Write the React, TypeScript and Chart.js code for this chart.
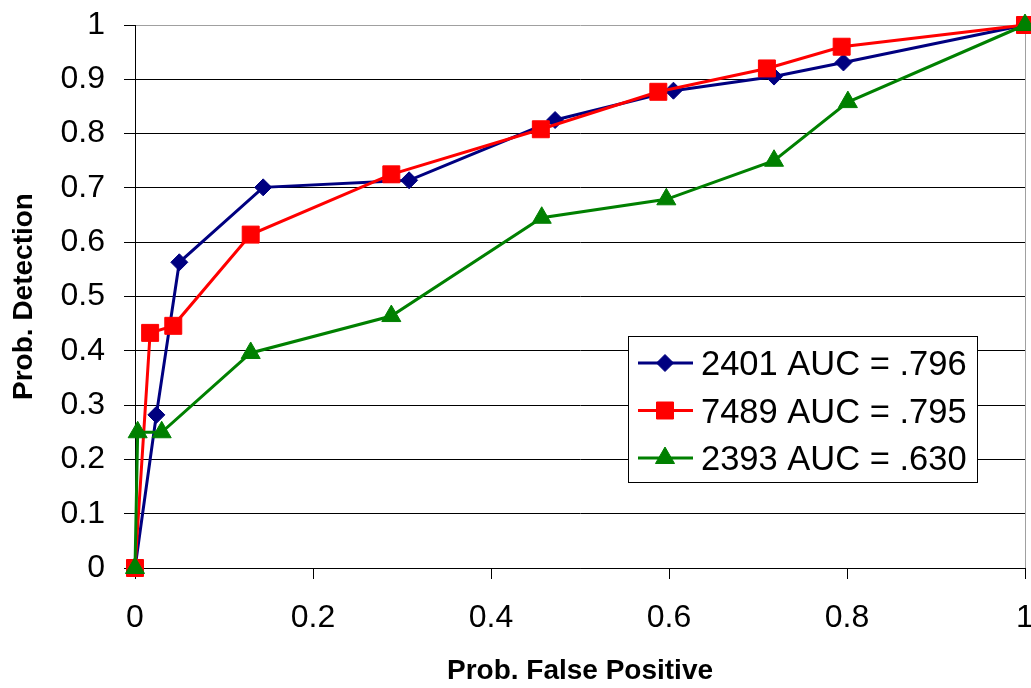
import { useEffect, useRef } from "react";
import { Chart, registerables } from "chart.js";
import { drawPoint } from "chart.js/helpers";

Chart.register(...registerables);

// ---- data ----
const seriesLabels = ["2401 AUC = .796", "7489 AUC = .795", "2393 AUC = .630"];

const fp2401 = [0, 0.024, 0.0498, 0.144, 0.308, 0.472, 0.605, 0.718, 0.796, 1];
const pd2401 = [0, 0.282, 0.563, 0.701, 0.714, 0.825, 0.879, 0.905, 0.931, 1];

const fp7489 = [0, 0.017, 0.043, 0.13, 0.288, 0.456, 0.588, 0.71, 0.794, 1];
const pd7489 = [0, 0.433, 0.446, 0.614, 0.725, 0.808, 0.877, 0.92, 0.96, 1];

const fp2393 = [0, 0.003, 0.03, 0.13, 0.288, 0.457, 0.597, 0.718, 0.801, 1];
const pd2393 = [0, 0.25, 0.25, 0.396, 0.464, 0.645, 0.679, 0.75, 0.858, 1];

const xTickValues = [0, 0.2, 0.4, 0.6, 0.8, 1];
const yTickValues = [0, 0.1, 0.2, 0.3, 0.4, 0.5, 0.6, 0.7, 0.8, 0.9, 1];

const xTitle = "Prob. False Positive";
const yTitle = "Prob. Detection";

const FONT = "'Liberation Sans', Arial, sans-serif";

const toPoints = (xs: number[], ys: number[]) => xs.map((x, i) => ({ x, y: ys[i] }));
const fmt = (v: number) => String(Math.round(v * 10) / 10);

const legendPlugin = {
  id: "boxLegend",
  afterDraw(chart: any) {
    const ctx = chart.ctx as CanvasRenderingContext2D;
    const left = 628;
    const top = 336;
    const w = 349;
    const h = 146;
    ctx.save();
    ctx.fillStyle = "#ffffff";
    ctx.fillRect(left, top, w, h);
    ctx.strokeStyle = "#000000";
    ctx.lineWidth = 1;
    ctx.strokeRect(left + 0.5, top + 0.5, w, h);
    chart.data.datasets.forEach((ds: any, i: number) => {
      const y = 363 + i * 47.5;
      ctx.strokeStyle = ds.borderColor;
      ctx.lineWidth = 3;
      ctx.beginPath();
      ctx.moveTo(638, y);
      ctx.lineTo(693, y);
      ctx.stroke();
      ctx.fillStyle = ds.backgroundColor;
      ctx.strokeStyle = ds.borderColor;
      ctx.lineWidth = 1;
      drawPoint(ctx, { pointStyle: ds.pointStyle, radius: ds.pointRadius, rotation: 0, borderWidth: 1 } as any, 665, y);
      ctx.fillStyle = "#000000";
      ctx.font = `34.5px ${FONT}`;
      ctx.textBaseline = "alphabetic";
      ctx.textAlign = "left";
      ctx.fillText(ds.label, 701, y + 12);
    });
    ctx.restore();
  },
};

export default function App() {
  const ref = useRef<HTMLCanvasElement | null>(null);

  useEffect(() => {
    if (!ref.current) return;
    const chart = new Chart(ref.current, {
      type: "line",
      data: {
        datasets: [
          {
            label: seriesLabels[0],
            data: toPoints(fp2401, pd2401),
            borderColor: "#000080",
            backgroundColor: "#000080",
            pointStyle: "rectRot",
            pointRadius: 8.5,
            pointBorderWidth: 1,
            borderWidth: 3,
            order: 3,
            clip: false as any,
          },
          {
            label: seriesLabels[1],
            data: toPoints(fp7489, pd7489),
            borderColor: "#ff0000",
            backgroundColor: "#ff0000",
            pointStyle: "rect",
            pointRadius: 12,
            pointBorderWidth: 1,
            borderWidth: 3,
            order: 2,
            clip: false as any,
          },
          {
            label: seriesLabels[2],
            data: toPoints(fp2393, pd2393),
            borderColor: "#008000",
            backgroundColor: "#008000",
            pointStyle: "triangle",
            pointRadius: 11,
            pointBorderWidth: 1,
            borderWidth: 3,
            order: 1,
            clip: false as any,
          },
        ],
      },
      options: {
        responsive: false,
        animation: false,
        events: [],
        layout: { autoPadding: false, padding: { top: 25, right: 6, left: 0, bottom: 0 } },
        plugins: {
          legend: { display: false },
          tooltip: { enabled: false },
          title: { display: false },
        },
        scales: {
          x: {
            type: "linear",
            min: 0,
            max: 1,
            afterBuildTicks: (s: any) => {
              s.ticks = xTickValues.map((v) => ({ value: v }));
            },
            afterFit: (s: any) => {
              s.height = 120;
              s.paddingLeft = 0;
              s.paddingRight = 0;
            },
            ticks: {
              autoSkip: false,
              maxRotation: 0,
              padding: 20,
              color: "#000",
              font: { family: FONT, size: 32 },
              callback: (v: any) => fmt(Number(v)),
            },
            grid: {
              drawOnChartArea: true,
              color: (c: any) => (c.tick && c.tick.value === 1 ? "#a0a0a0" : "rgba(0,0,0,0)"),
              tickColor: "#000",
              tickLength: 11,
              lineWidth: 1,
            },
            border: { display: true, color: "#000", width: 1 },
            title: {
              display: true,
              text: xTitle,
              color: "#000",
              font: { family: FONT, size: 28, weight: "bold" },
              padding: { top: 0, bottom: 0 },
            },
          },
          y: {
            type: "linear",
            min: 0,
            max: 1,
            afterBuildTicks: (s: any) => {
              s.ticks = yTickValues.map((v) => ({ value: v }));
            },
            afterFit: (s: any) => {
              s.width = 135;
              s.paddingTop = 0;
              s.paddingBottom = 0;
            },
            ticks: {
              autoSkip: false,
              padding: 19,
              color: "#000",
              font: { family: FONT, size: 32 },
              callback: (v: any) => fmt(Number(v)),
            },
            grid: {
              color: (c: any) => (c.tick && c.tick.value === 1 ? "#a0a0a0" : "#000"),
              tickColor: "#000",
              tickLength: 11,
              lineWidth: 1,
            },
            border: { display: true, color: "#000", width: 1 },
            title: {
              display: true,
              text: yTitle,
              color: "#000",
              font: { family: FONT, size: 28, weight: "bold" },
              padding: { top: 7, bottom: 0 },
            },
          },
        },
      },
      plugins: [legendPlugin],
    });
    return () => chart.destroy();
  }, []);

  return (
    <div style={{ position: "fixed", left: 0, top: 0, width: 1031, height: 688, background: "#fff" }}>
      <canvas ref={ref} width={1031} height={688} style={{ display: "block" }} />
    </div>
  );
}
